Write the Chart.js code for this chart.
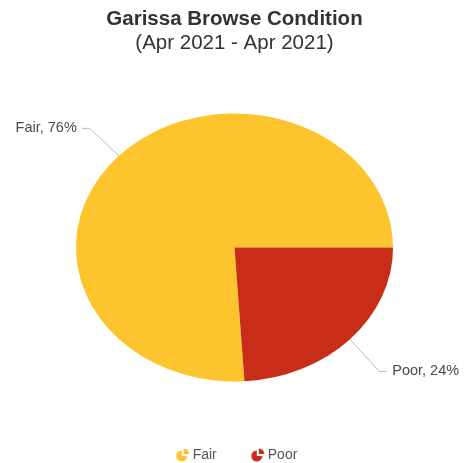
<!DOCTYPE html>
<html>
<head>
<meta charset="utf-8">
<script src="https://cdn.jsdelivr.net/npm/chart.js@4.4.1/dist/chart.umd.min.js"></script>
<style>
  html, body { margin: 0; padding: 0; background: #ffffff; }
  #wrap { width: 464px; height: 463px; }
</style>
</head>
<body>
<div id="wrap"><canvas id="pieChart" width="464" height="463"></canvas></div>
<script>
// chart data
var titleText = 'Garissa Browse Condition';
var subtitleText = '(Apr 2021 - Apr 2021)';
var categories = ['Fair', 'Poor'];
var percentages = [76, 24];
var sliceColors = ['#FDC42E', '#C82E17'];

var FONT = '"Liberation Sans", Arial, Helvetica, sans-serif';
// the reference pie is drawn as an ellipse, wider than tall
var STRETCH = 1.183;

// little pie icon for the legend, with the top right quarter pulled out
// (drawn in the right part of the canvas so it sits closer to the text)
function makeIcon(color) {
    var c = document.createElement('canvas');
    c.width = 24;
    c.height = 14;
    var g = c.getContext('2d');
    g.fillStyle = color;
    g.beginPath();
    g.moveTo(15, 8);
    g.arc(15, 8, 5.5, 0, 1.5 * Math.PI, false);
    g.closePath();
    g.fill();
    g.beginPath();
    g.moveTo(17, 6);
    g.arc(17, 6, 5.5, 1.5 * Math.PI, 2 * Math.PI, false);
    g.closePath();
    g.fill();
    return c;
}

var icons = sliceColors.map(makeIcon);

var ellipsePlugin = {
    id: 'ellipse',
    beforeDatasetsDraw: function(chart) {
        var arc = chart.getDatasetMeta(0).data[0];
        var ctx = chart.ctx;
        ctx.save();
        ctx.translate(arc.x, arc.y);
        ctx.scale(STRETCH, 1);
        ctx.translate(-arc.x, -arc.y);
    },
    afterDatasetsDraw: function(chart) {
        var ctx = chart.ctx;
        ctx.restore();

        // labels with connector lines, drawn outside the stretch
        var meta = chart.getDatasetMeta(0);
        ctx.save();
        ctx.font = '14.5px ' + FONT;
        ctx.textBaseline = 'middle';
        meta.data.forEach(function(arc, i) {
            var a = (arc.startAngle + arc.endAngle) / 2;
            var cos = Math.cos(a), sin = Math.sin(a);
            var x0 = arc.x + cos * arc.outerRadius * STRETCH;
            var y0 = arc.y + sin * arc.outerRadius;
            var x1 = x0 + cos * 40;
            var y1 = y0 + sin * (sin > 0 ? 47 : 40);
            var side = cos < 0 ? -1 : 1;
            var x2 = x1 + side * 8;

            ctx.strokeStyle = '#b4bcc6';
            ctx.lineWidth = 1;
            ctx.beginPath();
            ctx.moveTo(x0, y0);
            ctx.lineTo(x1, y1);
            ctx.lineTo(x2, y1);
            ctx.stroke();

            ctx.fillStyle = '#4a4a4a';
            ctx.textAlign = side < 0 ? 'right' : 'left';
            ctx.fillText(categories[i] + ', ' + percentages[i] + '%', x2 + side * 5, y1);
        });
        ctx.restore();
    }
};

var total = percentages.reduce(function(s, v) { return s + v; }, 0);

var ctx = document.getElementById('pieChart').getContext('2d');
var chart = new Chart(ctx, {
    type: 'pie',
    data: {
        labels: categories,
        datasets: [{
            data: percentages,
            backgroundColor: sliceColors,
            borderWidth: 0,
            radius: 134,
            clip: false
        }]
    },
    options: {
        responsive: false,
        animation: false,
        events: [],
        // last slice ends at three o'clock
        rotation: 90 + 360 * percentages[percentages.length - 1] / total,
        layout: {
            padding: { left: 5, right: 0, top: 0, bottom: -9 }
        },
        plugins: {
            title: {
                display: true,
                text: titleText,
                color: '#333333',
                font: { family: FONT, size: 20.5, weight: 'bold', lineHeight: 1 },
                padding: { top: 9, bottom: 4 }
            },
            subtitle: {
                display: true,
                text: subtitleText,
                color: '#333333',
                font: { family: FONT, size: 20.5, weight: 'normal', lineHeight: 1 },
                padding: { top: 0, bottom: 23 }
            },
            legend: {
                position: 'bottom',
                labels: {
                    usePointStyle: true,
                    pointStyleWidth: 14,
                    boxHeight: 12,
                    padding: 30,
                    color: '#555555',
                    font: { family: FONT, size: 14 },
                    generateLabels: function(chart) {
                        return chart.data.labels.map(function(label, i) {
                            return {
                                text: label,
                                fillStyle: sliceColors[i],
                                strokeStyle: sliceColors[i],
                                lineWidth: 0,
                                pointStyle: icons[i],
                                fontColor: '#555555',
                                hidden: false,
                                index: i
                            };
                        });
                    }
                }
            },
            tooltip: { enabled: false }
        }
    },
    plugins: [ellipsePlugin]
});
</script>
</body>
</html>
